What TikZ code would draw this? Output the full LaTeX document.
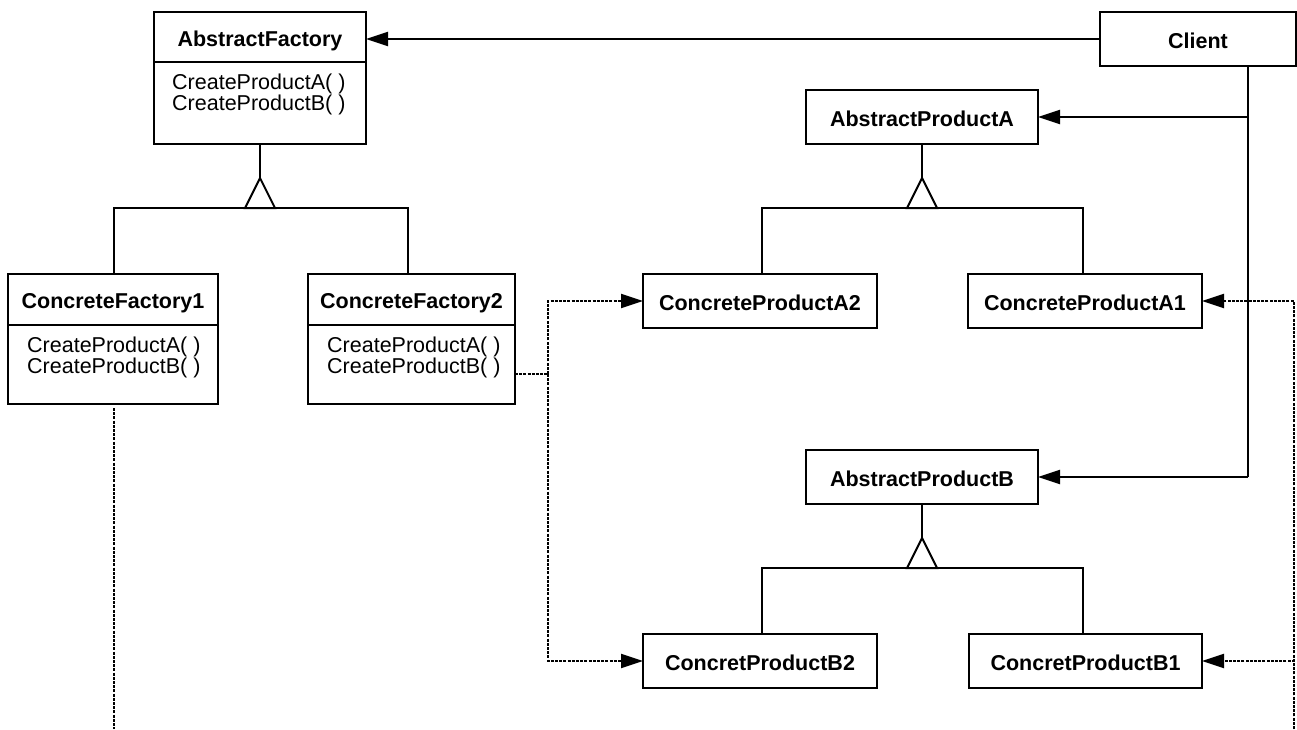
\documentclass[tikz,border=0pt]{standalone}
\usepackage{fontspec}
\setmainfont{Liberation Sans}
\usetikzlibrary{arrows.meta}
\begin{document}
\begin{tikzpicture}[x=1pt,y=-1pt,
  every node/.style={font=\fontsize{21.5}{20}\selectfont},
  hdr/.style={draw, line width=2pt, inner sep=0pt, outer sep=0pt, font=\fontsize{21.5}{20}\selectfont\bfseries, text height=18.5pt, text depth=0pt},
  cmp/.style={draw, line width=2pt, inner sep=0pt, outer sep=0pt, anchor=north},
  meth/.style={inner sep=0pt, align=left, anchor=north west},
  ln/.style={line width=2pt},
  assoc/.style={ln, -{Triangle[length=22pt,width=14pt]}},
  dep/.style={line width=2pt, dash pattern=on 3pt off 1.2pt},
  depa/.style={dep, -{Triangle[length=22pt,width=14pt]}},
  inh/.style={line width=2pt, fill=white},
]
\useasboundingbox (0,0) rectangle (1297,729);

% AbstractFactory
\node[hdr, minimum width=212pt, minimum height=50pt] (afh) at (260,37) {AbstractFactory};
\node[cmp, minimum width=212pt, minimum height=82pt] (afm) at (afh.south) {};
\node[meth] (aft) at ([xshift=18pt,yshift=-12pt]afm.north west) {CreateProductA( )\\CreateProductB( )};

% ConcreteFactory1
\node[hdr, minimum width=210pt, minimum height=51pt] (cf1h) at (113,299.5) {ConcreteFactory1};
\node[cmp, minimum width=210pt, minimum height=79pt] (cf1m) at (cf1h.south) {};
\node[meth] (cf1t) at ([xshift=19pt,yshift=-12pt]cf1m.north west) {CreateProductA( )\\CreateProductB( )};

% ConcreteFactory2
\node[hdr, minimum width=207pt, minimum height=51pt] (cf2h) at (411.5,299.5) {ConcreteFactory2};
\node[cmp, minimum width=207pt, minimum height=79pt] (cf2m) at (cf2h.south) {};
\node[meth] (cf2t) at ([xshift=19pt,yshift=-12pt]cf2m.north west) {CreateProductA( )\\CreateProductB( )};

% Client and products
\node[hdr, minimum width=196pt, minimum height=54pt] (client) at (1198,39) {Client};
\node[hdr, minimum width=232pt, minimum height=54pt] (apa) at (922,117) {AbstractProductA};
\node[hdr, minimum width=232pt, minimum height=54pt] (apb) at (922,477) {AbstractProductB};
\node[hdr, minimum width=234pt, minimum height=54pt] (cpa2) at (760,301) {ConcreteProductA2};
\node[hdr, minimum width=234pt, minimum height=54pt] (cpa1) at (1085,301) {ConcreteProductA1};
\node[hdr, minimum width=234pt, minimum height=54pt] (cpb2) at (760,661) {ConcretProductB2};
\node[hdr, minimum width=233pt, minimum height=54pt] (cpb1) at (1085.5,661) {ConcretProductB1};

% Inheritance: factories
\coordinate (t1) at (260,178);
\draw[ln] ([xshift=1pt]cf1h.north) -- ++(0,-66) -| ([xshift=-3.5pt]cf2h.north);
\draw[ln] (afm.south) -- (t1);
\draw[inh] (t1) -- ++(15,30) -- ++(-30,0) -- cycle;

% Inheritance: product A
\coordinate (t2) at (922,178);
\draw[ln] ([xshift=2pt]cpa2.north) -- ++(0,-66) -| ([xshift=-2pt]cpa1.north);
\draw[ln] (apa.south) -- (t2);
\draw[inh] (t2) -- ++(15,30) -- ++(-30,0) -- cycle;

% Inheritance: product B
\coordinate (t3) at (922,538);
\draw[ln] ([xshift=2pt]cpb2.north) -- ++(0,-66) -| ([xshift=-2.5pt]cpb1.north);
\draw[ln] (apb.south) -- (t3);
\draw[inh] (t3) -- ++(15,30) -- ++(-30,0) -- cycle;

% Client associations
\draw[assoc] (client.west) -- (client.west -| afh.east);
\coordinate (ct) at (1248,66);
\coordinate (cb) at (1248,477);
\draw[ln] (client.south -| ct) -- (cb);
\draw[assoc] (ct |- apa.east) -- (apa.east);
\draw[assoc] (cb) -- (apb.east);

% Dependencies
\coordinate (j1) at (548,374);
\draw[dep] (cf2m.east |- j1) -- (j1);
\draw[depa] (j1) |- (cpa2.west);
\draw[depa] (j1) |- (cpb2.west);
\coordinate (r0) at (1294,729);
\draw[depa] (r0) |- (cpa1.east);
\draw[depa] (r0) |- (cpb1.east);
\coordinate (l0) at (114,729);
\draw[dep, shorten <=4pt] (cf1m.south -| l0) -- (l0);
\end{tikzpicture}
\end{document}
